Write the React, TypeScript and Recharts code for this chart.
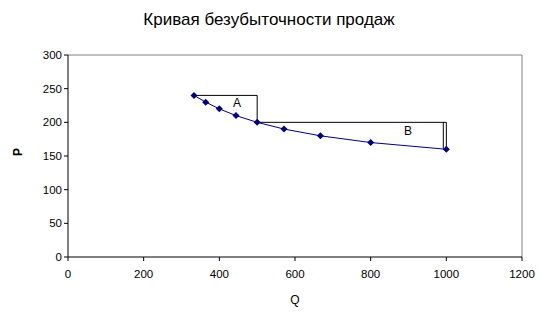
import { ScatterChart, Scatter, XAxis, YAxis, ReferenceLine, ReferenceDot, Label } from "recharts";

// P = 40000 / Q + 120 style break-even curve
const qValues = [333, 364, 400, 444, 500, 571, 667, 800, 1000];
const pValues = [240, 230, 220, 210, 200, 190, 180, 170, 160];

const areaA = [
  { q: 333, p: 240 },
  { q: 500, p: 240 },
  { q: 500, p: 200 },
];
const areaB = [
  { q: 500, p: 200 },
  { q: 1000, p: 200 },
  { q: 1000, p: 160 },
];
const areaBInner = [
  { q: 992, p: 200 },
  { q: 992, p: 161 },
];

const xTicks = [0, 200, 400, 600, 800, 1000, 1200];
const yTicks = [0, 50, 100, 150, 200, 250, 300];

const curve = qValues.map((q, i) => ({ q, p: pValues[i] }));

const font = "Arial, 'Liberation Sans', sans-serif";

const Diamond = (props: any) => {
  const { cx, cy } = props;
  if (cx == null || cy == null) return <g />;
  return (
    <polygon
      points={`${cx},${cy - 3.5} ${cx + 3.5},${cy} ${cx},${cy + 3.5} ${cx - 3.5},${cy}`}
      fill="#000080"
    />
  );
};

const NoDot = () => <g />;

const App = () => (
  <div
    style={{
      position: "absolute",
      left: 0,
      top: 0,
      width: 542,
      height: 317,
      background: "#fff",
      fontFamily: font,
    }}
  >
    <div
      style={{
        position: "absolute",
        top: 10,
        left: 0,
        width: 538,
        textAlign: "center",
        fontSize: 17,
        color: "#000",
      }}
    >
      Кривая безубыточности продаж
    </div>
    <ScatterChart
      width={542}
      height={317}
      margin={{ top: 55, right: 20, bottom: 0, left: 20 }}
    >
      <XAxis
        type="number"
        dataKey="q"
        domain={[0, 1200]}
        ticks={xTicks}
        interval={0}
        stroke="#000"
        tickSize={4}
        tick={{ fill: "#000", fontSize: 11.5, fontFamily: font, dy: 7 }}
        height={60}
      >
        <Label value="Q" position="insideBottom" offset={13} style={{ fill: "#000", fontSize: 12, fontFamily: font }} />
      </XAxis>
      <YAxis
        type="number"
        dataKey="p"
        domain={[0, 300]}
        ticks={yTicks}
        interval={0}
        stroke="#000"
        tickSize={4}
        tick={{ fill: "#000", fontSize: 11.5, fontFamily: font }}
        width={48}
      >
        <Label value="P" angle={-90} position="insideLeft" offset={-2} style={{ fill: "#000", fontSize: 12, fontFamily: font, fontWeight: "bold" }} />
      </YAxis>
      <ReferenceLine y={300} stroke="#808080" />
      <ReferenceLine x={1200} stroke="#808080" />
      <Scatter data={areaA} line={{ stroke: "#000", strokeWidth: 1 }} shape={NoDot} isAnimationActive={false} />
      <Scatter data={areaB} line={{ stroke: "#000", strokeWidth: 1 }} shape={NoDot} isAnimationActive={false} />
      <Scatter data={areaBInner} line={{ stroke: "#000", strokeWidth: 1 }} shape={NoDot} isAnimationActive={false} />
      <Scatter data={curve} line={{ stroke: "#000080", strokeWidth: 1 }} shape={Diamond} isAnimationActive={false} />
      <ReferenceDot x={447} y={229} r={0} stroke="none" label={{ value: "A", position: "center", fill: "#000", fontSize: 12, fontFamily: font }} />
      <ReferenceDot x={899} y={187} r={0} stroke="none" label={{ value: "B", position: "center", fill: "#000", fontSize: 12, fontFamily: font }} />
    </ScatterChart>
  </div>
);

export default App;
